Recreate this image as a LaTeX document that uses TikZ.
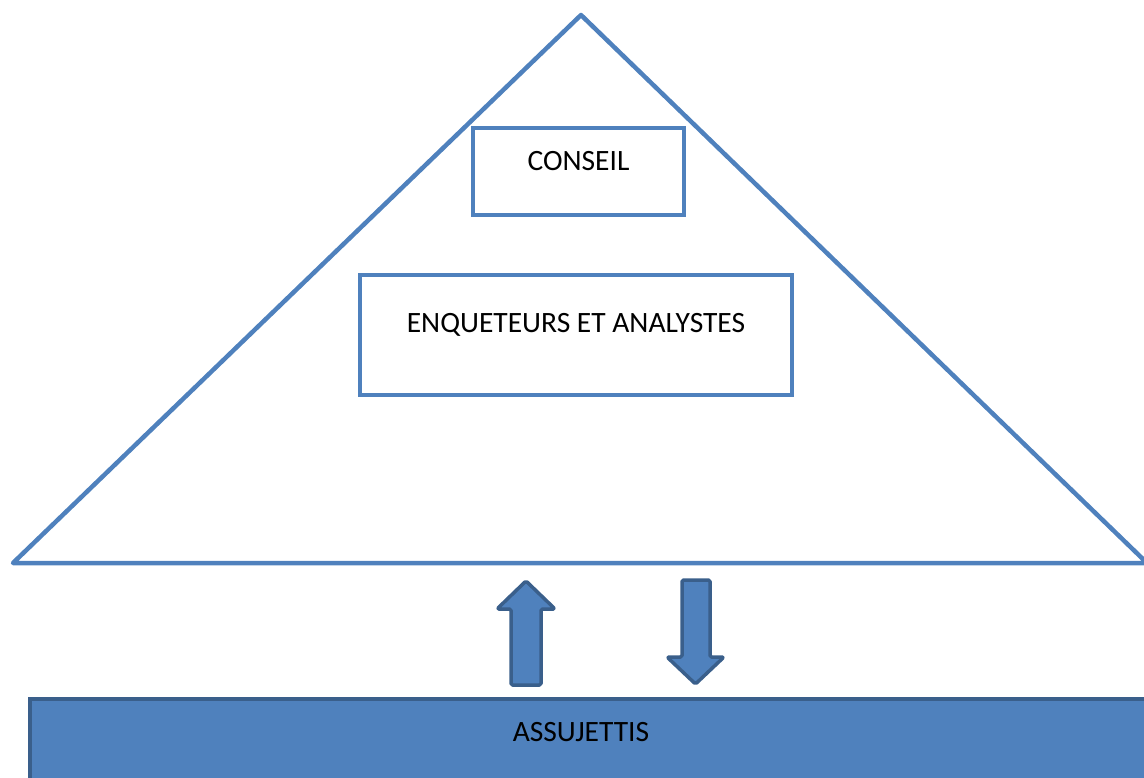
\documentclass[tikz,border=0pt]{standalone}
\usepackage{fontspec}
\setmainfont{Carlito}
\definecolor{ablue}{HTML}{4F81BD}
\definecolor{dblue}{HTML}{3A5F8B}
\begin{document}
\begin{tikzpicture}[x=1pt,y=-1pt,
  tri/.style={draw=ablue,line width=4.5pt,line join=round},
  box/.style={draw=ablue,line width=4.5pt,fill=white},
  lbl/.style={font=\fontsize{29.5}{33}\selectfont,inner sep=0pt,anchor=base},
  barrow/.style={draw=dblue,fill=ablue,line width=3.5pt,rounded corners=1.5pt,line join=round}]
\useasboundingbox (0,0) rectangle (1144,778);
\coordinate (apex) at (581,15);
\coordinate (bl) at (13,563);
\coordinate (br) at (1147,563);
\draw[tri] (bl) -- (apex) -- (br) -- cycle;
\draw[box] (473,128) rectangle (684,215);
\node[lbl] (conseil) at (578.5,171) {CONSEIL};
\draw[box] (360,275) rectangle (792,395);
\node[lbl] (enq) at (576,332) {ENQUETEURS ET ANALYSTES};
% bottom box
\fill[ablue] (28,697) rectangle (1150,790);
\draw[dblue,line width=4pt] (30,790) -- (30,699) -- (1150,699);
\node[lbl] (ass) at (581,741) {ASSUJETTIS};
% arrows
\draw[barrow] (526,581) -- (555,609) -- (541,609) -- (541,685) -- (511,685) -- (511,609) -- (497,609) -- cycle;
\draw[barrow] (682,580) -- (710,580) -- (710,657) -- (724,657) -- (695.5,684) -- (667,657) -- (682,657) -- cycle;
\end{tikzpicture}
\end{document}
